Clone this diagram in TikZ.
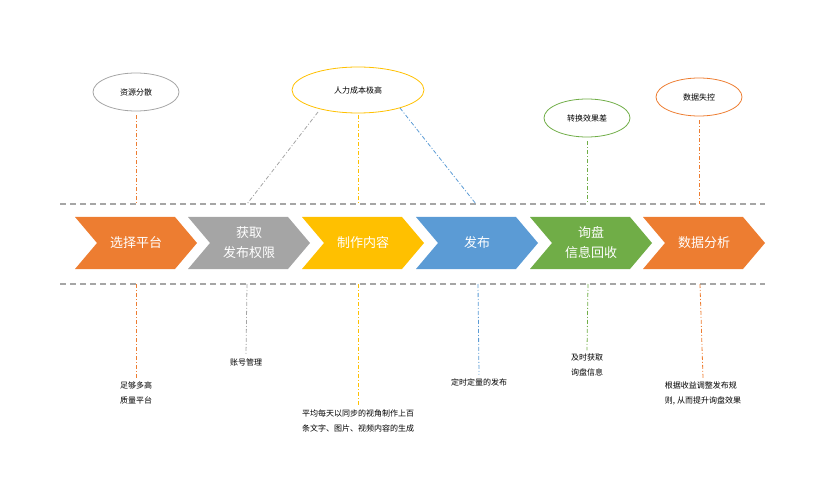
\documentclass[tikz,border=0pt]{standalone}
\usepackage{fontspec}
\setmainfont{Noto Sans CJK SC}
\definecolor{cOrange}{HTML}{ED7D31}
\definecolor{cGrey}{HTML}{A5A5A5}
\definecolor{cYellow}{HTML}{FFC000}
\definecolor{cBlue}{HTML}{5B9BD5}
\definecolor{cGreen}{HTML}{70AD47}
\tikzset{
  bubble/.style={ellipse, draw=#1, thick, minimum width=86pt, minimum height=38pt, inner sep=0pt, font=\fontsize{8}{10}\selectfont},
  steptext/.style={text=white, font=\fontsize{13}{20}\selectfont, align=center},
  link/.style={#1, thick, dash pattern=on 4pt off 2pt on 1pt off 2pt},
  note/.style={font=\fontsize{8}{15}\selectfont, align=left},
  rail/.style={gray!70, very thick, dash pattern=on 6pt off 4pt}
}
\usetikzlibrary{shapes.geometric}
\newcommand{\chev}[3]{% x, colour, name
  \fill[#2] (#1,217) -- ++(100,0) -- ++(22,26) -- ++(-22,26) -- ++(-100,0) -- ++(22,-26) -- cycle;
  \coordinate (#3) at ({#1+61},243);
}
\begin{document}
\begin{tikzpicture}[x=1pt,y=-1pt]
    \useasboundingbox (0,0) rectangle (839,500);
    % rails
    \draw[rail] (60,204) -- (765,204);
    \draw[rail] (60,284) -- (765,284);
    % chevrons
    \chev{75}{cOrange}{s1}
    \chev{188}{cGrey}{s2}
    \chev{302}{cYellow}{s3}
    \chev{416}{cBlue}{s4}
    \chev{530}{cGreen}{s5}
    \chev{643}{cOrange}{s6}
    \node[steptext] at (s1) {选择平台};
    \node[steptext] at (s2) {获取\\发布权限};
    \node[steptext] at (s3) {制作内容};
    \node[steptext] at (s4) {发布};
    \node[steptext] at (s5) {询盘\\信息回收};
    \node[steptext] at (s6) {数据分析};
    % problems
    \node[bubble=cGrey] (p1) at (136,92) {资源分散};
    \node[bubble=cYellow, minimum width=132pt, minimum height=46pt] (p3) at (358,90) {人力成本极高};
    \node[bubble=cGreen] (p5) at (587,118) {转换效果差};
    \node[bubble=cOrange] (p6) at (699,97) {数据失控};
    \coordinate (t1) at (136,204);
    \coordinate (t2) at (247,204);
    \coordinate (t3) at (358,204);
    \coordinate (t4) at (476,204);
    \coordinate (t5) at (587,204);
    \coordinate (t6) at (699,204);
    \draw[link=cOrange] (p1.south) ++(0,4) -- (t1);
    \draw[link=cGrey] (318,112) -- (t2);
    \draw[link=cYellow] (p3.south) ++(0,2) -- (t3);
    \draw[link=cBlue] (400,108) -- (t4);
    \draw[link=cGreen] (p5.south) ++(0,4) -- (t5);
    \draw[link=cOrange] (p6.south) ++(0,4) -- (t6);
    % notes
    \node[note, align=center] (n1) at (136,393) {足够多高\\质量平台};
    \node[note] (n2) at (246,362) {账号管理};
    \node[note] (n3) at (358,421) {平均每天以同步的视角制作上百\\条文字、图片、视频内容的生成};
    \node[note] (n4) at (479,382) {定时定量的发布};
    \node[note] (n5) at (587,365) {及时获取\\询盘信息};
    \node[note] (n6) at (703,393) {根据收益调整发布规\\则, 从而提升询盘效果};
    \draw[link=cOrange] (136,284) -- (n1.north);
    \draw[link=cGrey] (247,284) -- (n2.north);
    \draw[link=cYellow] (358,284) -- (n3.north);
    \draw[link=cBlue] (478,284) -- (n4.north);
    \draw[link=cGreen] (588,284) -- (n5.north);
    \draw[link=cOrange] (700,284) -- (n6.north);
\end{tikzpicture}
\end{document}
